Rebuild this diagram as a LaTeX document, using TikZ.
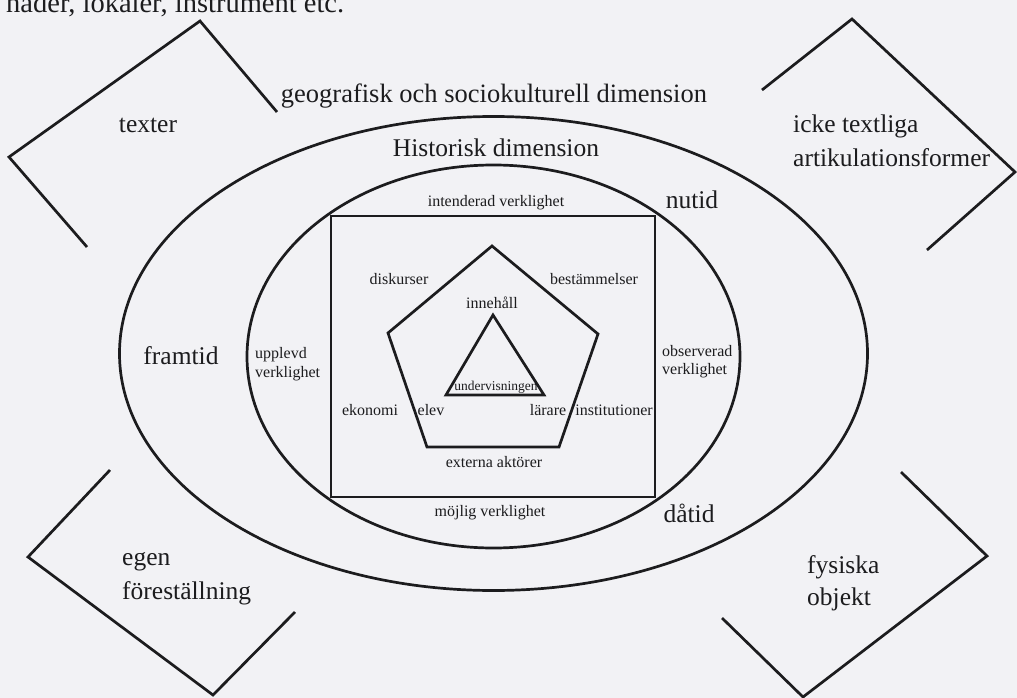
\documentclass[tikz,border=0pt]{standalone}
\usepackage{fontspec}
\setmainfont{Liberation Serif}
\definecolor{ink}{RGB}{28,28,30}
\definecolor{paper}{RGB}{242,242,245}
\begin{document}
\begin{tikzpicture}[x=1pt,y=-1pt,
  shape line/.style={draw=ink, line width=2.7pt, line join=miter, line cap=butt},
  bigtext/.style={font=\fontsize{25.5}{34}\selectfont, text=ink, inner sep=0pt},
  smalltext/.style={font=\fontsize{16}{19}\selectfont, text=ink, inner sep=0pt},
  tinytext/.style={font=\fontsize{13.5}{16}\selectfont, text=ink, inner sep=0pt}]
\fill[paper] (0,0) rectangle (1017,698);
\useasboundingbox (0,0) rectangle (1017,698);
\begin{scope}
\clip (0,0) rectangle (1017,698);
\node[anchor=base west, font=\fontsize{28.5}{34}\selectfont, text=ink, inner sep=0pt] (toptext) at (6,13) {nader, lokaler, instrument etc.};
\end{scope}

% corner brackets
\coordinate (tl1) at (87,247); \coordinate (tl2) at (9,157); \coordinate (tl3) at (200,21); \coordinate (tl4) at (277,112);
\coordinate (tr1) at (762,90); \coordinate (tr2) at (852,19); \coordinate (tr3) at (1015,172); \coordinate (tr4) at (927,250);
\coordinate (bl1) at (110,470); \coordinate (bl2) at (28,557); \coordinate (bl3) at (213,695); \coordinate (bl4) at (295,612);
\coordinate (br1) at (901,472); \coordinate (br2) at (987,556); \coordinate (br3) at (803,697); \coordinate (br4) at (722,618);
\draw[shape line] (tl1) -- (tl2) -- (tl3) -- (tl4);
\draw[shape line] (tr1) -- (tr2) -- (tr3) -- (tr4);
\draw[shape line] (bl1) -- (bl2) -- (bl3) -- (bl4);
\draw[shape line] (br1) -- (br2) -- (br3) -- (br4);

% ellipses
\draw[shape line] (493.5,353.5) ellipse [x radius=374, y radius=237];
\draw[shape line] (493.5,356.5) ellipse [x radius=246.5, y radius=191.5];

% square
\draw[shape line] (331,216) rectangle (655,497);

% pentagon
\draw[shape line] (492,246) -- (598,334) -- (559,447) -- (427,447) -- (388,333) -- cycle;

% triangle
\draw[shape line] (493,315) -- (544,395) -- (446,395) -- cycle;

% texts
\node[bigtext, font=\fontsize{26.5}{34}\selectfont, anchor=base] (geo) at (494,103) {geografisk och sociokulturell dimension};
\node[bigtext, anchor=base] (hist) at (496,157) {Historisk dimension};
\node[bigtext, anchor=base] (texter) at (148,132) {texter};
\node[bigtext, anchor=base west] (icke1) at (793,133) {icke textliga};
\node[bigtext, anchor=base west] (icke2) at (793,167) {artikulationsformer};
\node[bigtext, anchor=base west] (egen1) at (122,565) {egen};
\node[bigtext, anchor=base west] (egen2) at (122,599) {föreställning};
\node[bigtext, anchor=base west] (fys1) at (807,573) {fysiska};
\node[bigtext, anchor=base west] (fys2) at (807,605) {objekt};
\node[bigtext, anchor=base] (framtid) at (181,364) {framtid};
\node[bigtext, anchor=base] (nutid) at (692,208) {nutid};
\node[bigtext, anchor=base] (datid) at (689,522) {dåtid};

\node[smalltext, anchor=base west] (upp1) at (255,358) {upplevd};
\node[smalltext, anchor=base west] (upp2) at (255,377) {verklighet};
\node[smalltext, anchor=base west] (obs1) at (662,356) {observerad};
\node[smalltext, anchor=base west] (obs2) at (662,374) {verklighet};
\node[smalltext, anchor=base] (intend) at (496,206) {intenderad verklighet};
\node[smalltext, anchor=base] (mojlig) at (490,516) {möjlig verklighet};
\node[smalltext, anchor=base] (disk) at (399,284) {diskurser};
\node[smalltext, anchor=base] (best) at (594,284) {bestämmelser};
\node[smalltext, anchor=base] (inne) at (492,308) {innehåll};
\node[tinytext, anchor=base] (underv) at (496,390) {undervisningen};
\node[smalltext, anchor=base] (ekon) at (370,415) {ekonomi};
\node[smalltext, anchor=base] (elev) at (431,415) {elev};
\node[smalltext, anchor=base] (larare) at (548,415) {lärare};
\node[smalltext, anchor=base] (inst) at (614,415) {institutioner};
\node[smalltext, anchor=base] (ext) at (494,467) {externa aktörer};
\end{tikzpicture}
\end{document}
